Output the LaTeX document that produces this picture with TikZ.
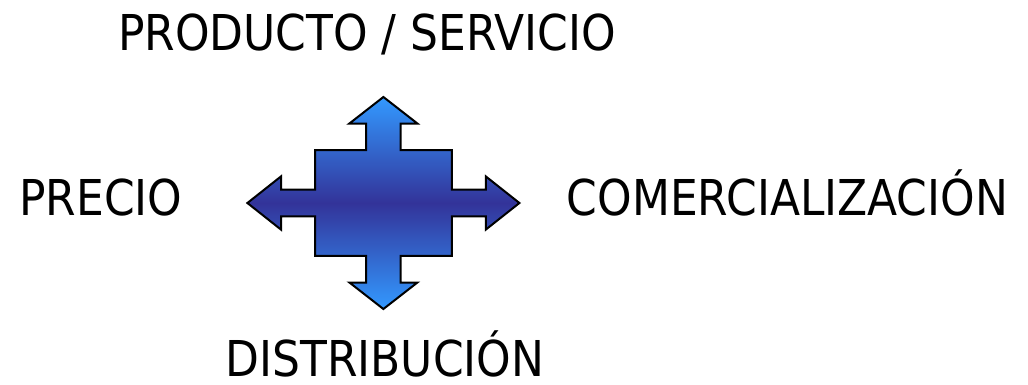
\documentclass[tikz,border=0pt]{standalone}
\usepackage{fontspec}
\usetikzlibrary{calc}
\setmainfont[FakeStretch=0.89]{DejaVu Sans}
\definecolor{lightb}{RGB}{51,153,255}
\definecolor{darkb}{RGB}{51,51,153}
\begin{document}
\begin{tikzpicture}[x=1pt,y=1pt,
  lbl/.style={inner sep=0pt,anchor=base,font=\fontsize{49.4}{52}\selectfont},
  arrowshape/.style={draw=black,line width=2pt,line join=miter,
    top color=lightb,bottom color=lightb,middle color=darkb}]
\useasboundingbox (0,0) rectangle (1028,384);
% center
\coordinate (c) at (383.4,181);
% four-way arrow
\path[arrowshape]
  ($(c)+(0,106)$) coordinate (tt)
  -- ($(c)+(34,79.5)$) -- ($(c)+(17.3,79.5)$) -- ($(c)+(17.3,52.9)$)
  -- ($(c)+(68.35,52.9)$) -- ($(c)+(68.35,13.35)$)
  -- ($(c)+(102.4,13.35)$) -- ($(c)+(102.4,26.6)$) -- ($(c)+(136,0)$) coordinate (rt)
  -- ($(c)+(102.4,-26.6)$) -- ($(c)+(102.4,-13.35)$) -- ($(c)+(68.35,-13.35)$)
  -- ($(c)+(68.35,-52.9)$) -- ($(c)+(17.3,-52.9)$) -- ($(c)+(17.3,-79.5)$)
  -- ($(c)+(34,-79.5)$) -- ($(c)+(0,-106)$) coordinate (bt)
  -- ($(c)+(-34,-79.5)$) -- ($(c)+(-17.3,-79.5)$) -- ($(c)+(-17.3,-52.9)$)
  -- ($(c)+(-68.35,-52.9)$) -- ($(c)+(-68.35,-13.35)$) -- ($(c)+(-102.4,-13.35)$)
  -- ($(c)+(-102.4,-26.6)$) -- ($(c)+(-136,0)$) coordinate (lt)
  -- ($(c)+(-102.4,26.6)$) -- ($(c)+(-102.4,13.35)$) -- ($(c)+(-68.35,13.35)$)
  -- ($(c)+(-68.35,52.9)$) -- ($(c)+(-17.3,52.9)$) -- ($(c)+(-17.3,79.5)$)
  -- ($(c)+(-34,79.5)$) -- cycle;
% labels
\node[lbl] (prod) at (367,334) {PRODUCTO / SERVICIO};
\node[lbl] (prec) at (101,169) {PRECIO};
\node[lbl] (come) at (787.5,169) {COMERCIALIZACIÓN};
\node[lbl] (dist) at (385,7.5) {DISTRIBUCIÓN};
\end{tikzpicture}
\end{document}
